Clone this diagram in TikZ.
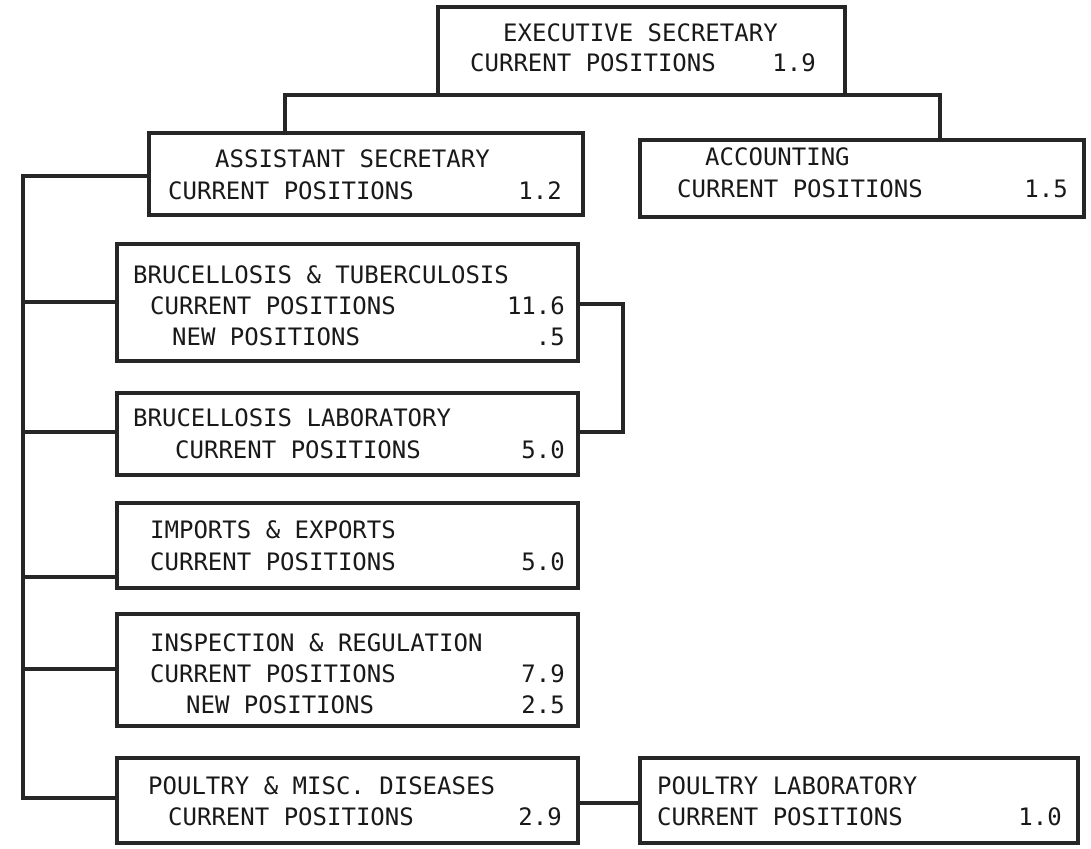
\documentclass[tikz,border=0pt]{standalone}
\usepackage{fontspec}
\setmonofont{DejaVu Sans Mono}
\begin{document}
\begin{tikzpicture}[x=1pt,y=-1pt,
  box/.style={draw=black!85, line width=3.2pt, rectangle, inner sep=0pt},
  conn/.style={draw=black!85, line width=3.2pt},
  txt/.style={font=\ttfamily\fontsize{24}{28}\selectfont, text=black!90, inner sep=0pt, text height=17.5pt, text depth=0pt, anchor=west},
  num/.style={txt, anchor=east}]
\useasboundingbox (0,0) rectangle (1091,848);
% boxes
\node[box, minimum width=407pt, minimum height=88pt] (exec) at (641.5,51) {};
\node[box, minimum width=434pt, minimum height=82pt] (asst) at (366,174) {};
\node[box, minimum width=444pt, minimum height=77pt] (acct) at (862,178.5) {};
\node[box, minimum width=461pt, minimum height=117pt] (bt) at (347.5,302.5) {};
\node[box, minimum width=461pt, minimum height=82pt] (lab) at (347.5,434) {};
\node[box, minimum width=461pt, minimum height=85pt] (ie) at (347.5,545.5) {};
\node[box, minimum width=461pt, minimum height=112pt] (ir) at (347.5,670) {};
\node[box, minimum width=461pt, minimum height=85pt] (pm) at (347.5,800.5) {};
\node[box, minimum width=438pt, minimum height=85pt] (pl) at (859,800.5) {};
% texts
\node[txt] (exec1) at (503,33) {EXECUTIVE SECRETARY};
\node[txt] (exec2) at (470,63) {CURRENT POSITIONS};
\node[num] (exec3) at (816,63) {1.9};
\node[txt] (asst1) at (215,159) {ASSISTANT SECRETARY};
\node[txt] (asst2) at (168,191) {CURRENT POSITIONS};
\node[num] (asst3) at (562,191) {1.2};
\node[txt] (acct1) at (705,157) {ACCOUNTING};
\node[txt] (acct2) at (677,189) {CURRENT POSITIONS};
\node[num] (acct3) at (1068,189) {1.5};
\node[txt] (bt1) at (133,275) {BRUCELLOSIS \& TUBERCULOSIS};
\node[txt] (bt2) at (150,306) {CURRENT POSITIONS};
\node[num] (bt3) at (565,306) {11.6};
\node[txt] (bt4) at (172,337) {NEW POSITIONS};
\node[num] (bt5) at (565,337) {.5};
\node[txt] (lab1) at (133,418) {BRUCELLOSIS LABORATORY};
\node[txt] (lab2) at (175,450) {CURRENT POSITIONS};
\node[num] (lab3) at (565,450) {5.0};
\node[txt] (ie1) at (150,530) {IMPORTS \& EXPORTS};
\node[txt] (ie2) at (150,562) {CURRENT POSITIONS};
\node[num] (ie3) at (565,562) {5.0};
\node[txt] (ir1) at (150,643) {INSPECTION \& REGULATION};
\node[txt] (ir2) at (150,674) {CURRENT POSITIONS};
\node[num] (ir3) at (565,674) {7.9};
\node[txt] (ir4) at (186,705) {NEW POSITIONS};
\node[num] (ir5) at (565,705) {2.5};
\node[txt] (pm1) at (148,786) {POULTRY \& MISC. DISEASES};
\node[txt] (pm2) at (168,817) {CURRENT POSITIONS};
\node[num] (pm3) at (562,817) {2.9};
\node[txt] (pl1) at (657,786) {POULTRY LABORATORY};
\node[txt] (pl2) at (657,817) {CURRENT POSITIONS};
\node[num] (pl3) at (1062,817) {1.0};
% connectors
\coordinate (ja) at (285,95);
\coordinate (jb) at (940,95);
\draw[conn] (ja |- asst.north) -- (ja) -- (jb) -- (jb |- acct.north);
\coordinate (tt) at (23,176);
\coordinate (tb) at (23,798);
\draw[conn] (tt -| asst.west) -- (tt) -- (tb) -- (tb -| pm.west);
\coordinate (sbt) at (23,302);
\coordinate (slab) at (23,432);
\coordinate (sie) at (23,577);
\coordinate (sir) at (23,669);
\draw[conn] (sbt) -- (sbt -| bt.west);
\draw[conn] (slab) -- (slab -| lab.west);
\draw[conn] (sie) -- (sie -| ie.west);
\draw[conn] (sir) -- (sir -| ir.west);
\coordinate (rb1) at (623,304);
\coordinate (rb2) at (623,432);
\draw[conn] (rb1 -| bt.east) -- (rb1) -- (rb2) -- (rb2 -| lab.east);
\coordinate (pp) at (610,803);
\draw[conn] (pp -| pm.east) -- (pp -| pl.west);
\end{tikzpicture}
\end{document}
